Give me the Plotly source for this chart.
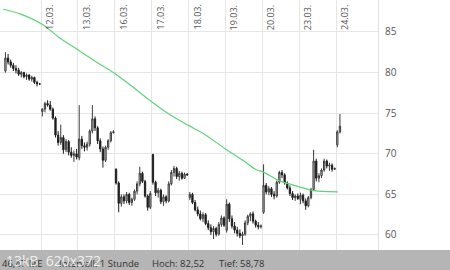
import plotly.graph_objects as go

# ---------------- data ----------------
day_labels = ["11.03.", "12.03.", "13.03.", "16.03.", "17.03.", "18.03.",
              "19.03.", "20.03.", "23.03.", "24.03."]
candles_per_day = [14, 14, 14, 14, 14, 14, 14, 14, 14, 2]
slots_per_day = 14

open_ = [
    # 11.03.
    80.2, 81.8, 81.3, 80.9, 80.5, 80.3, 79.8, 80.0, 79.5, 79.7, 79.2, 79.4, 78.8, 78.6,
    # 12.03.
    75.2, 75.5, 76.2, 76.0, 75.5, 74.4, 72.3, 71.4, 72.0, 70.5, 71.5, 70.2, 69.8, 70.0,
    # 13.03.
    69.5, 71.8, 71.0, 70.8, 71.2, 72.8, 74.3, 73.2, 71.6, 70.6, 69.2, 70.8, 71.6, 72.6,
    # 16.03.
    68.1, 66.4, 63.9, 64.7, 64.2, 65.0, 64.0, 64.4, 65.4, 66.3, 67.6, 66.6, 64.8, 63.4,
    # 17.03.
    69.9, 66.5, 65.2, 65.5, 64.1, 64.7, 64.2, 66.3, 67.7, 68.2, 67.2, 67.6, 67.0, 67.5,
    # 18.03.
    64.6, 65.0, 64.0, 63.1, 62.6, 62.0, 62.5, 61.4, 60.9, 60.4, 60.8, 60.1, 61.3, 62.1,
    # 19.03.
    60.6, 63.8, 62.0, 61.1, 60.6, 60.2, 59.9, 60.1, 61.5, 62.3, 62.6, 61.7, 61.2, 61.0,
    # 20.03.
    62.8, 66.1, 65.3, 65.7, 65.0, 64.8, 66.5, 67.7, 67.4, 66.4, 65.8, 65.1, 64.6, 64.8,
    # 23.03.
    64.4, 64.9, 64.2, 63.6, 64.6, 65.6, 69.1, 67.0, 67.3, 68.0, 69.1, 68.5, 68.6, 68.1,
    # 24.03.
    71.1, 72.7,
]
high = [
    82.52, 82.3, 81.6, 81.2, 80.9, 80.6, 80.2, 80.1, 79.9, 79.8, 79.6, 79.5, 79.0, 78.7,
    75.6, 76.4, 76.6, 76.5, 75.7, 74.6, 72.8, 73.6, 72.3, 71.8, 71.7, 70.8, 70.4, 70.6,
    76.0, 72.2, 71.4, 71.5, 73.0, 76.0, 74.6, 73.4, 71.9, 70.9, 71.0, 71.8, 72.8, 72.9,
    68.2, 66.6, 65.0, 65.0, 65.3, 65.2, 64.6, 65.6, 66.6, 68.4, 67.8, 66.8, 65.0, 65.4,
    70.0, 66.7, 65.8, 65.7, 65.0, 64.9, 66.6, 68.0, 68.5, 68.4, 67.9, 67.8, 67.7, 67.6,
    65.3, 65.2, 64.3, 63.5, 63.0, 62.8, 62.7, 61.8, 61.3, 61.1, 61.0, 61.6, 62.4, 62.3,
    64.4, 64.0, 62.4, 61.6, 61.0, 60.7, 60.4, 61.8, 62.5, 62.8, 62.9, 61.9, 61.6, 61.3,
    68.7, 66.4, 66.0, 65.9, 65.4, 66.7, 67.9, 68.0, 67.6, 66.6, 66.1, 65.4, 65.0, 65.1,
    65.2, 65.1, 64.5, 64.8, 65.8, 70.5, 69.4, 67.6, 68.2, 69.4, 69.3, 68.9, 68.8, 68.3,
    72.9, 74.9,
]
low = [
    80.0, 81.0, 80.6, 80.2, 79.9, 79.6, 79.4, 79.3, 79.1, 79.0, 78.9, 78.6, 78.3, 78.5,
    74.6, 75.1, 75.8, 75.3, 74.2, 72.0, 71.0, 71.1, 70.0, 70.2, 69.8, 69.5, 69.0, 69.3,
    69.2, 70.6, 70.3, 70.4, 70.9, 72.5, 72.8, 71.2, 70.2, 68.3, 69.0, 70.5, 71.4, 72.5,
    66.2, 62.8, 63.5, 63.8, 63.9, 63.7, 63.6, 64.2, 65.0, 66.0, 66.4, 64.6, 63.0, 63.2,
    66.2, 64.8, 64.6, 63.8, 63.6, 63.9, 64.0, 66.1, 67.2, 66.9, 66.7, 66.8, 66.9, 67.3,
    64.3, 63.8, 62.9, 62.3, 61.8, 61.6, 61.2, 60.6, 60.0, 59.5, 59.8, 59.9, 61.0, 61.0,
    60.3, 61.6, 60.8, 60.2, 59.8, 59.6, 58.78, 59.9, 61.2, 61.7, 61.4, 60.9, 60.7, 60.8,
    62.6, 65.0, 64.9, 64.7, 64.4, 64.6, 66.3, 67.0, 66.2, 65.6, 64.8, 64.3, 64.2, 64.3,
    63.8, 63.9, 63.1, 63.4, 64.4, 65.4, 66.6, 66.5, 67.0, 67.8, 68.2, 67.9, 67.8, 68.0,
    70.8, 72.5,
]
close = [
    81.8, 81.3, 80.9, 80.5, 80.3, 79.8, 80.0, 79.5, 79.7, 79.2, 79.4, 78.8, 78.6, 78.6,
    75.5, 76.2, 76.0, 75.5, 74.4, 72.3, 71.4, 72.0, 70.5, 71.5, 70.2, 69.8, 70.0, 69.6,
    71.8, 71.0, 70.8, 71.2, 72.8, 74.3, 73.2, 71.6, 70.6, 69.2, 70.8, 71.6, 72.6, 72.7,
    66.4, 63.9, 64.7, 64.2, 65.0, 64.0, 64.4, 65.4, 66.3, 67.6, 66.6, 64.8, 63.4, 65.1,
    66.5, 65.2, 65.5, 64.1, 64.7, 64.2, 66.3, 67.7, 68.2, 67.2, 67.6, 67.0, 67.5, 67.4,
    65.0, 64.0, 63.1, 62.6, 62.0, 62.5, 61.4, 60.9, 60.4, 60.8, 60.1, 61.3, 62.1, 61.2,
    63.8, 62.0, 61.1, 60.6, 60.2, 59.9, 60.1, 61.5, 62.3, 62.6, 61.7, 61.2, 61.0, 61.1,
    66.1, 65.3, 65.7, 65.0, 64.8, 66.5, 67.7, 67.4, 66.4, 65.8, 65.1, 64.6, 64.8, 64.5,
    64.9, 64.2, 63.6, 64.6, 65.6, 69.1, 67.0, 67.3, 68.0, 69.1, 68.5, 68.6, 68.1, 68.2,
    72.7, 73.4,
]

# moving average line (day position, value)
ma_pos = [-0.03, 0.45, 1.05, 1.5, 2.0, 2.5, 3.0, 3.5, 4.0, 4.5, 5.0, 5.4,
          6.0, 6.5, 6.85, 7.0, 7.5, 7.8, 8.1, 8.35, 9.05]
ma_val = [87.8, 87.2, 85.9, 84.3, 82.8, 81.3, 79.9, 78.2, 76.4, 74.8, 73.5, 72.5,
          70.6, 69.1, 68.0, 67.8, 66.6, 66.2, 65.8, 65.5, 65.3]

y_ticks = [60, 65, 70, 75, 80, 85]
info_texts = ["46,47 ME", "Intervall: 1 Stunde", "Hoch: 82,52", "Tief: 58,78"]

# ---------------- build ----------------
x = []
for d, n in enumerate(candles_per_day):
    for i in range(n):
        x.append(d + (i + 0.5) / slots_per_day)

fig = go.Figure()
fig.add_trace(go.Candlestick(
    x=x, open=open_, high=high, low=low, close=close,
    increasing=dict(fillcolor="#d9d9d9", line=dict(color="#3a3a3a", width=1)),
    decreasing=dict(fillcolor="#1e1e1e", line=dict(color="#1e1e1e", width=1)),
    whiskerwidth=0, showlegend=False, hoverinfo="skip",
))
fig.add_trace(go.Scatter(
    x=ma_pos, y=ma_val, mode="lines", line=dict(color="#5fd47a", width=1.2, shape="spline"),
    showlegend=False, hoverinfo="skip",
))

W, H = 450, 270
PL, PR, PT, PB = 0, 72, 0, 20
plot_w = W - PL - PR
plot_h = H - PT - PB

fig.update_layout(
    width=W, height=H,
    margin=dict(l=PL, r=PR, t=PT, b=PB, pad=0),
    paper_bgcolor="white", plot_bgcolor="white",
    font=dict(family="Open Sans", color="#555555"),
    xaxis=dict(
        range=[-0.112, 10.139], tickvals=list(range(1, 10)), showticklabels=False,
        showgrid=True, gridcolor="#e6e6e6", gridwidth=1, zeroline=False,
        rangeslider=dict(visible=False), fixedrange=True, showline=False,
    ),
    yaxis=dict(
        range=[58.15, 88.94], side="right", tickvals=y_ticks,
        ticktext=[str(v) for v in y_ticks], showgrid=True, gridcolor="#e6e6e6",
        zeroline=False, tickfont=dict(size=10, color="#555555"),
        ticks="", ticklabelstandoff=4, showline=True, linecolor="#e0e0e0",
        fixedrange=True,
    ),
)

# rotated date labels inside the top of the plot
for d in range(1, len(day_labels)):
    fig.add_annotation(
        x=d, y=1, xref="x", yref="paper", text=day_labels[d], textangle=-90,
        showarrow=False, xanchor="left", yanchor="top", xshift=0, yshift=-3,
        font=dict(size=9, color="#555555"),
    )

# bottom grey info bar
fig.add_shape(type="rect", xref="paper", yref="paper",
              x0=0, x1=W / plot_w, y0=-PB / plot_h, y1=0,
              fillcolor="#b5b5b5", line=dict(width=0), layer="above")
info_x = [0, 57, 150, 217]
for tx, px in zip(info_texts, info_x):
    fig.add_annotation(
        x=px / plot_w, y=-13 / plot_h, xref="paper", yref="paper", text=tx,
        showarrow=False, xanchor="left", yanchor="middle",
        font=dict(size=9.5, color="#333333"),
    )
# thumbnail watermark
fig.add_annotation(
    x=4 / plot_w, y=-10 / plot_h, xref="paper", yref="paper", text="13kB  620x372",
    showarrow=False, xanchor="left", yanchor="middle",
    font=dict(size=14, color="rgba(245,245,245,0.9)"),
)

fig.write_html("out.html")
